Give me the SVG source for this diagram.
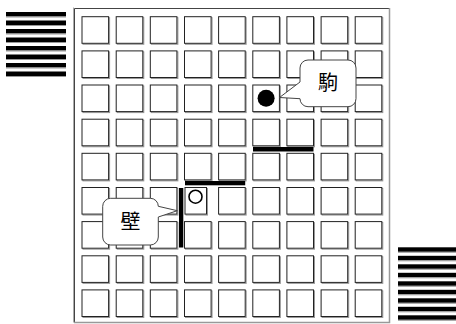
<svg xmlns="http://www.w3.org/2000/svg" xmlns:xlink="http://www.w3.org/1999/xlink" width="456" height="324" viewBox="0 0 456 324">
<style>
.bar{fill:#000}
.barsh{fill:#999}
.wall{fill:#000}
.bubble{fill:#fff;stroke:#444;stroke-width:1}
.lbl{font-family:"Noto Sans CJK JP","Noto Sans CJK SC",sans-serif;font-size:20px;fill:#000;text-anchor:middle}
</style>
<defs>
<g id="cell">
<rect x="1" y="1" width="26.6" height="26.6" fill="none" stroke="#999" stroke-width="1"/>
<rect x="0" y="0" width="26.6" height="26.6" fill="#fff" stroke="#222" stroke-width="1"/>
</g>
</defs>
<rect width="456" height="324" fill="#fff"/>
<g id="stack-left">
<rect x="6" y="12" width="60" height="4.5" class="bar"/><rect x="6" y="16.5" width="60" height="1" class="barsh"/>
<rect x="6" y="20.5" width="60" height="4.5" class="bar"/><rect x="6" y="25" width="60" height="1" class="barsh"/>
<rect x="6" y="29" width="60" height="4.5" class="bar"/><rect x="6" y="33.5" width="60" height="1" class="barsh"/>
<rect x="6" y="37.5" width="60" height="4.5" class="bar"/><rect x="6" y="42" width="60" height="1" class="barsh"/>
<rect x="6" y="46" width="60" height="4.5" class="bar"/><rect x="6" y="50.5" width="60" height="1" class="barsh"/>
<rect x="6" y="54.5" width="60" height="4.5" class="bar"/><rect x="6" y="59" width="60" height="1" class="barsh"/>
<rect x="6" y="63" width="60" height="4.5" class="bar"/><rect x="6" y="67.5" width="60" height="1" class="barsh"/>
<rect x="6" y="71.5" width="60" height="4.5" class="bar"/><rect x="6" y="76" width="60" height="1" class="barsh"/>
</g>
<g id="stack-right">
<rect x="398" y="247.3" width="58" height="4.5" class="bar"/><rect x="398" y="251.8" width="58" height="1" class="barsh"/>
<rect x="398" y="255.8" width="58" height="4.5" class="bar"/><rect x="398" y="260.3" width="58" height="1" class="barsh"/>
<rect x="398" y="264.3" width="58" height="4.5" class="bar"/><rect x="398" y="268.8" width="58" height="1" class="barsh"/>
<rect x="398" y="272.8" width="58" height="4.5" class="bar"/><rect x="398" y="277.3" width="58" height="1" class="barsh"/>
<rect x="398" y="281.3" width="58" height="4.5" class="bar"/><rect x="398" y="285.8" width="58" height="1" class="barsh"/>
<rect x="398" y="289.8" width="58" height="4.5" class="bar"/><rect x="398" y="294.3" width="58" height="1" class="barsh"/>
<rect x="398" y="298.3" width="58" height="4.5" class="bar"/><rect x="398" y="302.8" width="58" height="1" class="barsh"/>
<rect x="398" y="306.8" width="58" height="4.5" class="bar"/><rect x="398" y="311.3" width="58" height="1" class="barsh"/>
<rect x="398" y="315.3" width="58" height="4.5" class="bar"/><rect x="398" y="319.8" width="58" height="1" class="barsh"/>
</g>
<g id="board">
<path d="M74.5,322.5 V8.5 H389" fill="none" stroke="#444" stroke-width="1"/>
<path d="M73.5,322.5 V7.5" fill="none" stroke="#aaa" stroke-width="1"/>
<path d="M389.5,8 V322.5 H74" fill="none" stroke="#999" stroke-width="1.5"/>
</g>
<g id="cells">
<use xlink:href="#cell" x="82" y="16.7"/><use xlink:href="#cell" x="116.2" y="16.7"/><use xlink:href="#cell" x="150.3" y="16.7"/><use xlink:href="#cell" x="184.5" y="16.7"/><use xlink:href="#cell" x="218.6" y="16.7"/><use xlink:href="#cell" x="252.8" y="16.7"/><use xlink:href="#cell" x="286.9" y="16.7"/><use xlink:href="#cell" x="321.1" y="16.7"/><use xlink:href="#cell" x="355.2" y="16.7"/>
<use xlink:href="#cell" x="82" y="50.9"/><use xlink:href="#cell" x="116.2" y="50.9"/><use xlink:href="#cell" x="150.3" y="50.9"/><use xlink:href="#cell" x="184.5" y="50.9"/><use xlink:href="#cell" x="218.6" y="50.9"/><use xlink:href="#cell" x="252.8" y="50.9"/><use xlink:href="#cell" x="286.9" y="50.9"/><use xlink:href="#cell" x="321.1" y="50.9"/><use xlink:href="#cell" x="355.2" y="50.9"/>
<use xlink:href="#cell" x="82" y="85"/><use xlink:href="#cell" x="116.2" y="85"/><use xlink:href="#cell" x="150.3" y="85"/><use xlink:href="#cell" x="184.5" y="85"/><use xlink:href="#cell" x="218.6" y="85"/><use xlink:href="#cell" x="252.8" y="85"/><use xlink:href="#cell" x="286.9" y="85"/><use xlink:href="#cell" x="321.1" y="85"/><use xlink:href="#cell" x="355.2" y="85"/>
<use xlink:href="#cell" x="82" y="119.2"/><use xlink:href="#cell" x="116.2" y="119.2"/><use xlink:href="#cell" x="150.3" y="119.2"/><use xlink:href="#cell" x="184.5" y="119.2"/><use xlink:href="#cell" x="218.6" y="119.2"/><use xlink:href="#cell" x="252.8" y="119.2"/><use xlink:href="#cell" x="286.9" y="119.2"/><use xlink:href="#cell" x="321.1" y="119.2"/><use xlink:href="#cell" x="355.2" y="119.2"/>
<use xlink:href="#cell" x="82" y="153.3"/><use xlink:href="#cell" x="116.2" y="153.3"/><use xlink:href="#cell" x="150.3" y="153.3"/><use xlink:href="#cell" x="184.5" y="153.3"/><use xlink:href="#cell" x="218.6" y="153.3"/><use xlink:href="#cell" x="252.8" y="153.3"/><use xlink:href="#cell" x="286.9" y="153.3"/><use xlink:href="#cell" x="321.1" y="153.3"/><use xlink:href="#cell" x="355.2" y="153.3"/>
<use xlink:href="#cell" x="82" y="187.5"/><use xlink:href="#cell" x="116.2" y="187.5"/><use xlink:href="#cell" x="150.3" y="187.5"/>
<rect x="186" y="188.5" width="21.5" height="26.6" fill="none" stroke="#999" stroke-width="1"/><rect x="185" y="187.5" width="21.5" height="26.6" fill="#fff" stroke="#222" stroke-width="1"/>
<use xlink:href="#cell" x="218.6" y="187.5"/><use xlink:href="#cell" x="252.8" y="187.5"/><use xlink:href="#cell" x="286.9" y="187.5"/><use xlink:href="#cell" x="321.1" y="187.5"/><use xlink:href="#cell" x="355.2" y="187.5"/>
<use xlink:href="#cell" x="82" y="221.6"/><use xlink:href="#cell" x="116.2" y="221.6"/><use xlink:href="#cell" x="150.3" y="221.6"/><use xlink:href="#cell" x="184.5" y="221.6"/><use xlink:href="#cell" x="218.6" y="221.6"/><use xlink:href="#cell" x="252.8" y="221.6"/><use xlink:href="#cell" x="286.9" y="221.6"/><use xlink:href="#cell" x="321.1" y="221.6"/><use xlink:href="#cell" x="355.2" y="221.6"/>
<use xlink:href="#cell" x="82" y="255.8"/><use xlink:href="#cell" x="116.2" y="255.8"/><use xlink:href="#cell" x="150.3" y="255.8"/><use xlink:href="#cell" x="184.5" y="255.8"/><use xlink:href="#cell" x="218.6" y="255.8"/><use xlink:href="#cell" x="252.8" y="255.8"/><use xlink:href="#cell" x="286.9" y="255.8"/><use xlink:href="#cell" x="321.1" y="255.8"/><use xlink:href="#cell" x="355.2" y="255.8"/>
<use xlink:href="#cell" x="82" y="289.9"/><use xlink:href="#cell" x="116.2" y="289.9"/><use xlink:href="#cell" x="150.3" y="289.9"/><use xlink:href="#cell" x="184.5" y="289.9"/><use xlink:href="#cell" x="218.6" y="289.9"/><use xlink:href="#cell" x="252.8" y="289.9"/><use xlink:href="#cell" x="286.9" y="289.9"/><use xlink:href="#cell" x="321.1" y="289.9"/><use xlink:href="#cell" x="355.2" y="289.9"/>
</g>
<g id="walls">
<rect x="253" y="147" width="60.5" height="4.5" class="wall"/>
<rect x="185" y="181" width="60.2" height="4.3" class="wall"/>
<rect x="179" y="188" width="4.3" height="59.5" class="wall"/>
</g>
<g id="piece">
<circle cx="266.1" cy="98.3" r="8.5" fill="#000"/>
</g>
<g id="target">
<circle cx="195.5" cy="196.7" r="6.5" fill="#fff" stroke="#000" stroke-width="1.6"/>
</g>
<g id="callout-koma">
<path class="bubble" d="M308,60 H348 A8,8 0 0 1 356,68 V98.7 A8,8 0 0 1 348,106.7 H308 A8,8 0 0 1 300,98.7 L279.5,97.5 L300,82 V68 A8,8 0 0 1 308,60 Z"/>
<text class="lbl" x="328" y="89.5">駒</text>
</g>
<g id="callout-kabe">
<path class="bubble" d="M110.7,198.3 H150.3 A8,8 0 0 1 158.3,206.3 L177.3,210.7 L158.3,217 V237 A8,8 0 0 1 150.3,245 H110.7 A8,8 0 0 1 102.7,237 V206.3 A8,8 0 0 1 110.7,198.3 Z"/>
<text class="lbl" x="130.5" y="229">壁</text>
</g>
</svg>
